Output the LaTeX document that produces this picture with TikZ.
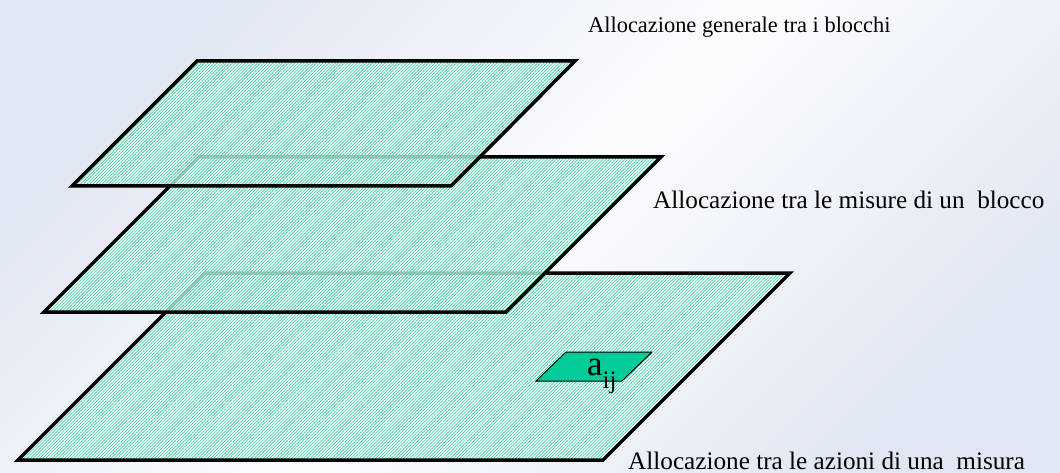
\documentclass[tikz,border=0pt]{standalone}
\usepackage{fontspec}
\setmainfont{Liberation Serif}
\usetikzlibrary{patterns.meta}

\definecolor{bgblue}{RGB}{225,231,242}
\definecolor{bgwhite}{RGB}{251,252,254}
\definecolor{hatch}{RGB}{55,207,162}
\definecolor{cellgreen}{RGB}{0,204,153}

\begin{document}
\begin{tikzpicture}[x=1pt,y=-1pt,
  plane/.style={draw=black, line width=3.5pt, line join=miter},
  hatched/.style={pattern={Lines[angle=45,distance=2.2pt,line width=0.65pt]}, pattern color=hatch},
  veil/.style={fill=white, fill opacity=0.75},
  levelnote/.style={anchor=base west, inner sep=0pt, font=\fontsize{25.2}{30}\selectfont},
  cellbox/.style={draw=black, line width=1pt, fill=cellgreen}]

  % canvas with a soft diagonal gradient
  \useasboundingbox (0,0) rectangle (1060,473);
  \shade[top color=bgblue, bottom color=bgblue, middle color=bgwhite, shading angle=45]
    (0,0) rectangle (1060,473);

  % lowest plane: actions of one measure
  \fill[white] (205,273) -- (790,273) -- (603,460) -- (18,460) -- cycle;
  \fill[hatched] (205,273) -- (790,273) -- (603,460) -- (18,460) -- cycle;
  \draw[plane] (205,273) -- (790,273) -- (603,460) -- (18,460) -- cycle;

  % single cell a_ij on the lowest plane
  \draw[cellbox] (566,352) -- (652,352) -- (622,381) -- (536,381) -- cycle;
  \node[anchor=base west, inner sep=0pt, font=\fontsize{35}{40}\selectfont] (cell)
    at (587,375) {a\raisebox{-13pt}{\fontsize{25}{28}\selectfont ij}};

  % middle plane: measures of one block
  \fill[veil] (199,157) -- (661,157) -- (506,312) -- (44,312) -- cycle;
  \fill[hatched] (199,157) -- (661,157) -- (506,312) -- (44,312) -- cycle;
  \draw[plane] (199,157) -- (661,157) -- (506,312) -- (44,312) -- cycle;

  % top plane: allocation among blocks
  \fill[veil] (197,61) -- (575,61) -- (451,186) -- (72,186) -- cycle;
  \fill[hatched] (197,61) -- (575,61) -- (451,186) -- (72,186) -- cycle;
  \draw[plane] (197,61) -- (575,61) -- (451,186) -- (72,186) -- cycle;

  % level descriptions
  \node[levelnote, font=\fontsize{22.4}{27}\selectfont] (note-top) at (588,33)
    {Allocazione generale tra i blocchi};
  \node[levelnote] (note-mid) at (653,209)
    {Allocazione tra le misure di un\ \ blocco};
  \node[levelnote] (note-low) at (628,469)
    {Allocazione tra le azioni di una\ \ misura};
\end{tikzpicture}
\end{document}
